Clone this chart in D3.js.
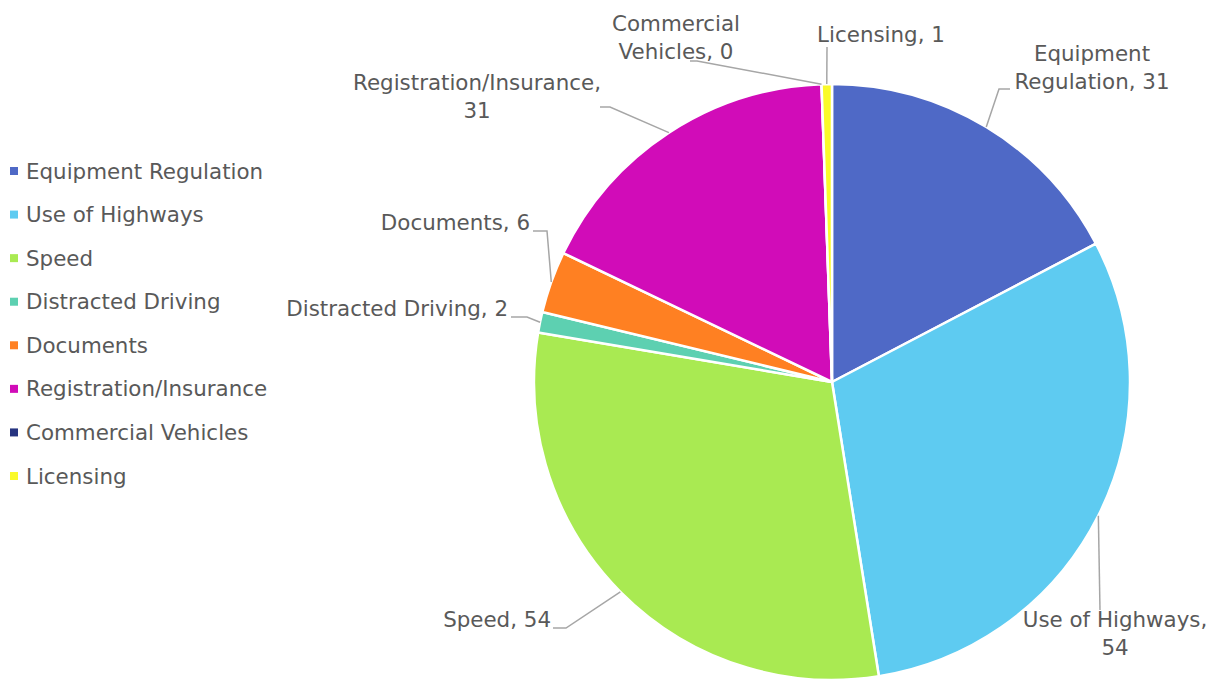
<!DOCTYPE html>
<html>
<head>
<meta charset="utf-8">
<script src="https://cdn.jsdelivr.net/npm/d3@7"></script>
<style>
  body { margin: 0; background: #fff; }
  svg text { font-family: "DejaVu Sans", sans-serif; fill: #595959; }
</style>
</head>
<body>
<div id="chart"></div>
<script>
// chart data
const categories = ["Equipment Regulation", "Use of Highways", "Speed", "Distracted Driving",
                    "Documents", "Registration/Insurance", "Commercial Vehicles", "Licensing"];
const values = [31, 54, 54, 2, 6, 31, 0, 1];
const colors = ["#4f69c6", "#5ecbf1", "#a9ea52", "#5dd0b1", "#ff8022", "#d10cb8", "#263480", "#fafa2a"];
// data label text lines
const labelLines = [
    ["Equipment", "Regulation, 31"],
    ["Use of Highways,", "54"],
    ["Speed, 54"],
    ["Distracted Driving, 2"],
    ["Documents, 6"],
    ["Registration/Insurance,", "31"],
    ["Commercial", "Vehicles, 0"],
    ["Licensing, 1"]
];

function init() {
    const w = 1217, h = 681;
    const cx = 832, cy = 382, r = 298;

    const svg = d3.select("#chart")
        .append("svg")
        .attr("width", w)
        .attr("height", h);

    const pie = d3.pie().sort(null).value(d => d)(values);
    const arc = d3.arc().innerRadius(0).outerRadius(r);
    const edge = d3.arc().innerRadius(r).outerRadius(r); // leader line ends

    const g = svg.append("g").attr("transform", `translate(${cx},${cy})`);

    //slices
    g.selectAll("path.slice")
        .data(pie)
        .enter()
        .append("path")
        .attr("class", "slice")
        .attr("d", arc)
        .attr("fill", (d, i) => colors[i])
        .attr("stroke", "#fff")
        .attr("stroke-width", 2.5)
        .attr("stroke-linejoin", "round");

    // label placement (text x, first baseline, anchor, leader elbow points) relative to page
    const labelPos = [
        {x: 1092, y: 61, a: "middle", pts: [[1010, 89], [999, 89]]},
        {x: 1115, y: 627, a: "middle", pts: [[1100, 610]]},
        {x: 551, y: 627, a: "end", pts: [[553, 628], [566, 628]]},
        {x: 508, y: 316, a: "end", pts: [[511, 317], [527, 317]]},
        {x: 530, y: 230, a: "end", pts: [[533, 231], [547, 231]]},
        {x: 477, y: 90, a: "middle", pts: [[600, 107], [610, 107]]},
        {x: 676, y: 31, a: "middle", pts: [[690, 61], [697, 61]]},
        {x: 881, y: 42, a: "middle", pts: [[827, 47]]}
    ];

    //leader lines
    pie.forEach((d, i) => {
        const c = edge.centroid(d);
        const pts = labelPos[i].pts.map(p => [p[0], p[1]]);
        pts.push([c[0] + cx, c[1] + cy]);
        svg.append("path")
            .attr("d", d3.line()(pts))
            .attr("fill", "none")
            .attr("stroke", "#a6a6a6")
            .attr("stroke-width", 1.5);
    });

    //data labels
    labelLines.forEach((lines, i) => {
        const p = labelPos[i];
        const t = svg.append("text")
            .attr("text-anchor", p.a)
            .style("font-size", "21.4px");
        lines.forEach((s, j) => {
            t.append("tspan")
                .attr("x", p.x)
                .attr("y", p.y + j * 28)
                .text(s);
        });
    });

    //legend
    const legendY = d3.scalePoint()
        .domain(categories)
        .range([171, 476]);

    const legend = svg.append("g");
    categories.forEach((c, i) => {
        legend.append("rect")
            .attr("x", 10)
            .attr("y", legendY(c) - 4)
            .attr("width", 8)
            .attr("height", 8)
            .attr("fill", colors[i]);
        legend.append("text")
            .attr("x", 26)
            .attr("y", legendY(c) + 7.5)
            .style("font-size", "21.4px")
            .text(c);
    });
}

window.onload = init;
</script>
</body>
</html>
